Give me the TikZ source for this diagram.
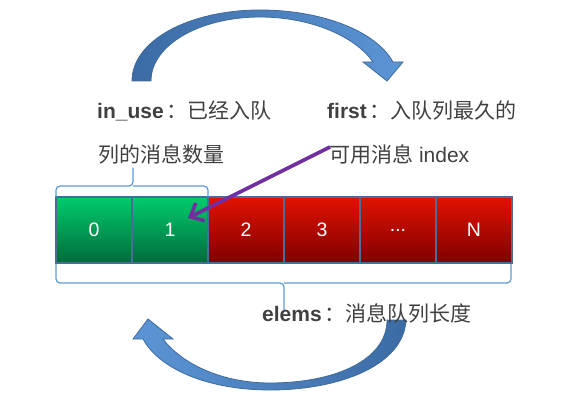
\documentclass[tikz,border=0pt]{standalone}
\usepackage{fontspec}
\setmainfont{Liberation Sans}
\newfontfamily\cjk{Noto Sans CJK SC}
\usetikzlibrary{arrows.meta}
\definecolor{txtgray}{HTML}{404040}
\definecolor{cellborder}{HTML}{4A6C98}
\definecolor{gtop}{HTML}{00CC6C}
\definecolor{gbot}{HTML}{006A3C}
\definecolor{rtop}{HTML}{E21200}
\definecolor{rbot}{HTML}{7E0000}
\definecolor{bracecol}{HTML}{5B9BD5}
\definecolor{adark}{HTML}{3C6BA4}
\definecolor{alight}{HTML}{5C95D6}
\definecolor{aedge}{HTML}{3E6A9C}
\definecolor{purp}{HTML}{7030A0}
\tikzset{
  cell/.style={draw=cellborder, line width=2pt, minimum width=76pt, minimum height=66pt,
    inner sep=0pt, text=white, font=\fontsize{19.5}{19.5}\selectfont},
  green cell/.style={cell, top color=gtop, bottom color=gbot},
  red cell/.style={cell, top color=rtop, bottom color=rbot},
  lbl/.style={anchor=base west, inner sep=0pt, text=txtgray, font=\fontsize{21}{21}\selectfont},
  bracestyle/.style={draw=bracecol, line width=1.2pt, rounded corners=4pt},
  bigarrow/.style={draw=aedge, line width=0.8pt},
}
\newcommand{\fwcolon}{\hspace{3pt}{\cjk ：}}
\begin{document}
\begin{tikzpicture}[x=1pt,y=-1pt]
\useasboundingbox (0,0) rectangle (579,401);
% top curved arrow
\shadedraw[bigarrow, left color=adark, right color=alight]
  (132,81) .. controls (132,40) and (190,10) .. (260,10)
  .. controls (320,10) and (375,30) .. (393,62)
  -- (403,62) -- (387,81) -- (363,62) -- (373,62)
  .. controls (355,36) and (310,17) .. (260,17)
  .. controls (200,17) and (151,45) .. (151,81) -- cycle;
% bottom curved arrow
\shadedraw[bigarrow, left color=alight, right color=adark]
  (406,320) .. controls (404,365) and (340,390) .. (270,390)
  .. controls (210,390) and (160,370) .. (143,339)
  -- (133,339) -- (148,319) -- (173,339) -- (163,339)
  .. controls (182,364) and (222,383) .. (270,383)
  .. controls (335,383) and (387,360) .. (387,320) -- cycle;
% labels
\node[lbl] (l1) at (97,119) {\textbf{in\_use}\fwcolon{\cjk 已经入队}};
\node[lbl] (l2) at (98,163) {{\cjk 列的消息数量}};
\node[lbl] (l3) at (327,119) {\textbf{first}\fwcolon{\cjk 入队列最久的}};
\node[lbl] (l4) at (329,163) {{\cjk 可用消息} index};
\node[lbl] (l5) at (262,321) {\textbf{elems}\fwcolon{\cjk 消息队列长度}};
% cells
\node[green cell] (c0) at (94,230) {0};
\node[green cell] (c1) at (170,230) {1};
\node[red cell] (c2) at (246,230) {2};
\node[red cell] (c3) at (322,230) {3};
\node[red cell] (c4) at (398,230) {...};
\node[red cell] (c5) at (474,230) {N};
% braces
\draw[bracestyle] (56,197) -- (56,186) -- (133,186) -- (133,168);
\draw[bracestyle] (208,197) -- (208,186) -- (133,186);
\draw[bracestyle] (56,264) -- (56,283) -- (284,283) -- (284,310);
\draw[bracestyle] (511,264) -- (511,283) -- (284,283);
% pointer arrow
\coordinate (pstart) at (330,147);
\coordinate (ptr) at (188,218);
\draw[purp, line width=3.6pt, -{Straight Barb[length=11pt,width=20pt,line width=3.6pt]}] (pstart) -- (ptr);
\end{tikzpicture}
\end{document}
